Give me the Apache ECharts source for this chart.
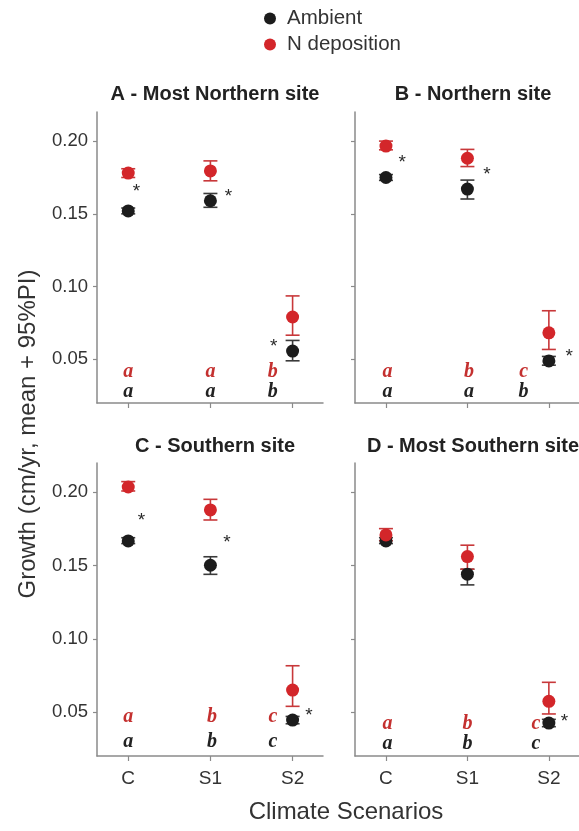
<!DOCTYPE html>
<html><head><meta charset="utf-8">
<script src="https://cdn.jsdelivr.net/npm/echarts@6/dist/echarts.min.js"></script>
<style>html,body{margin:0;padding:0;background:#fff}#c{width:579px;height:831px}</style>
</head><body><div id="c"></div>
<script>
const categories = ['C', 'S1', 'S2'];
const panelTitles = ['A - Most Northern site', 'B - Northern site', 'C - Southern site', 'D - Most Southern site'];
const yTicks = [0.05, 0.10, 0.15, 0.20];

// per panel (A,B,C,D), per scenario (C,S1,S2)
const ambientMean = [[0.152, 0.159, 0.0557], [0.175, 0.167, 0.0489], [0.1668, 0.1502, 0.0445], [0.1668, 0.1441, 0.0425]];
const ambientLow  = [[0.150, 0.1545, 0.049], [0.173, 0.1602, 0.046], [0.165, 0.144, 0.042], [0.165, 0.1368, 0.040]];
const ambientHigh = [[0.154, 0.164, 0.063], [0.177, 0.1732, 0.052], [0.169, 0.156, 0.047], [0.169, 0.1475, 0.045]];
const ndepMean = [[0.178, 0.1795, 0.0791], [0.1966, 0.1882, 0.0682], [0.2036, 0.188, 0.065], [0.1709, 0.1561, 0.0573]];
const ndepLow  = [[0.175, 0.1727, 0.0666], [0.194, 0.1825, 0.0568], [0.2009, 0.1811, 0.0539], [0.167, 0.1475, 0.0487]];
const ndepHigh = [[0.181, 0.1864, 0.0936], [0.200, 0.1943, 0.0834], [0.2073, 0.1952, 0.0816], [0.1752, 0.1639, 0.0703]];

// significance asterisks: [x (scenario units), y]
const asterisks = [
  [[1.10, 0.168], [2.22, 0.1645], [2.77, 0.0616]],
  [[1.20, 0.1877], [2.24, 0.1795], [3.25, 0.0548]],
  [[1.16, 0.1836], [2.20, 0.1686], [3.20, 0.050]],
  [[3.19, 0.046]]
];
// group letters
const redLetters = [['a', 'a', 'b'], ['a', 'b', 'c'], ['a', 'b', 'c'], ['a', 'b', 'c']];
const blackLetters = [['a', 'a', 'b'], ['a', 'a', 'b'], ['a', 'b', 'c'], ['a', 'b', 'c']];
const letterX = [[1, 2, 2.76], [1.02, 2.02, 2.69], [1, 2.02, 2.76], [1.02, 2, 2.84]];
const redLetterY = [0.0411, 0.0416, 0.0466, 0.0418];
const blackLetterY = [0.028, 0.028, 0.0295, 0.028];

const BLACK = '#1c1c1c', RED = '#d3262a', RED_TXT = '#c4302f', AXIS = '#8a8a8a';
const FONT = 'Liberation Sans, Arial';
const grids = [
  {left: 97, top: 112, width: 226, height: 291},
  {left: 355, top: 112, width: 226, height: 291},
  {left: 97, top: 463, width: 226, height: 293},
  {left: 355, top: 463, width: 226, height: 293}
];
const xAxes = [], yAxes = [], series = [], titles = [];
grids.forEach((g, i) => {
  const bottomRow = i >= 2, leftCol = i % 2 === 0;
  xAxes.push({type: 'value', gridIndex: i, min: 0.62, max: 3.37,
    axisLine: {show: true, lineStyle: {color: AXIS, width: 1.5}},
    axisTick: {show: true, length: 5, lineStyle: {color: AXIS, width: 1.2}, customValues: [1, 2, 3]},
    axisLabel: {show: bottomRow, customValues: [1, 2, 3], formatter: v => categories[Math.round(v) - 1],
      fontSize: 19, color: '#333', fontFamily: FONT, margin: 13},
    splitLine: {show: false}});
  yAxes.push({type: 'value', gridIndex: i, min: 0.02, max: 0.22,
    axisLine: {show: true, lineStyle: {color: AXIS, width: 1.5}},
    axisTick: {show: true, length: 4, lineStyle: {color: AXIS, width: 1.2}, customValues: yTicks},
    axisLabel: {show: leftCol, customValues: yTicks, formatter: v => v.toFixed(2),
      fontSize: 18.5, color: '#333', fontFamily: FONT, margin: 9},
    splitLine: {show: false}});
  titles.push({text: panelTitles[i], left: g.left + 113, top: g.top - (i < 2 ? 33 : 32), textAlign: 'center',
    textStyle: {fontSize: 20, fontWeight: 'bold', color: '#222', fontFamily: FONT}});

  const errBar = (lo, hi, color) => ({
    type: 'custom', xAxisIndex: i, yAxisIndex: i, silent: true, z: 3,
    data: categories.map((c, k) => [k + 1, lo[i][k], hi[i][k]]),
    renderItem: (params, api) => {
      const x = api.value(0);
      const a = api.coord([x, api.value(1)]), b = api.coord([x, api.value(2)]);
      const w = 7, st = {stroke: color, lineWidth: 1.6};
      return {type: 'group', children: [
        {type: 'line', shape: {x1: a[0], y1: a[1], x2: b[0], y2: b[1]}, style: st},
        {type: 'line', shape: {x1: a[0] - w, y1: a[1], x2: a[0] + w, y2: a[1]}, style: st},
        {type: 'line', shape: {x1: b[0] - w, y1: b[1], x2: b[0] + w, y2: b[1]}, style: st}
      ]};
    }
  });
  series.push(errBar(ambientLow, ambientHigh, '#3a3a3a'));
  series.push({type: 'scatter', name: 'Ambient', xAxisIndex: i, yAxisIndex: i, symbol: 'circle', symbolSize: 13, z: 4,
    itemStyle: {color: BLACK, opacity: 1}, data: ambientMean[i].map((v, k) => [k + 1, v])});
  series.push(errBar(ndepLow, ndepHigh, '#c8383a'));
  series.push({type: 'scatter', name: 'N deposition', xAxisIndex: i, yAxisIndex: i, symbol: 'circle', symbolSize: 13, z: 6,
    itemStyle: {color: RED, opacity: 1}, data: ndepMean[i].map((v, k) => [k + 1, v])});

  const textSeries = (data, style, dy) => ({
    type: 'custom', xAxisIndex: i, yAxisIndex: i, silent: true, z: 7, data: data,
    renderItem: (params, api) => {
      const p = api.coord([api.value(0), api.value(1)]);
      return {type: 'text', x: p[0], y: p[1] + dy, style: Object.assign({text: data[params.dataIndex][2], align: 'center', verticalAlign: 'middle'}, style)};
    }
  });
  series.push(textSeries(asterisks[i].map(a => [a[0], a[1], '*']),
    {fontSize: 19, fill: '#2a2a2a', fontFamily: FONT}, 4));
  series.push(textSeries(letterX[i].map((x, k) => [x, redLetterY[i], redLetters[i][k]]),
    {fontSize: 20, fontStyle: 'italic', fontWeight: 'bold', fill: RED_TXT, fontFamily: 'Liberation Serif, Times New Roman, serif'}, 0));
  series.push(textSeries(letterX[i].map((x, k) => [x, blackLetterY[i], blackLetters[i][k]]),
    {fontSize: 20, fontStyle: 'italic', fontWeight: 'bold', fill: '#222', fontFamily: 'Liberation Serif, Times New Roman, serif'}, 0));
});

const chart = echarts.init(document.getElementById('c'), null, {renderer: 'canvas'});
chart.setOption({
  animation: false,
  backgroundColor: '#fff',
  title: titles,
  legend: {data: ['Ambient', 'N deposition'], orient: 'vertical', left: 259, top: 3, itemGap: 5,
    icon: 'circle', itemWidth: 12, itemHeight: 12, selectedMode: false,
    textStyle: {fontSize: 20.5, color: '#333', fontFamily: FONT, padding: [0, 0, 0, 6]}},
  grid: grids,
  xAxis: xAxes,
  yAxis: yAxes,
  series: series,
  graphic: [
    {type: 'text', x: 346, y: 812, style: {text: 'Climate Scenarios', fontSize: 24, fill: '#333', align: 'center', verticalAlign: 'middle', fontFamily: FONT}},
    {type: 'text', x: 28, y: 434, rotation: Math.PI / 2, style: {text: 'Growth (cm/yr, mean + 95%PI)', fontSize: 24, fill: '#333',
      align: 'center', verticalAlign: 'middle', fontFamily: FONT}}
  ]
});
</script></body></html>
